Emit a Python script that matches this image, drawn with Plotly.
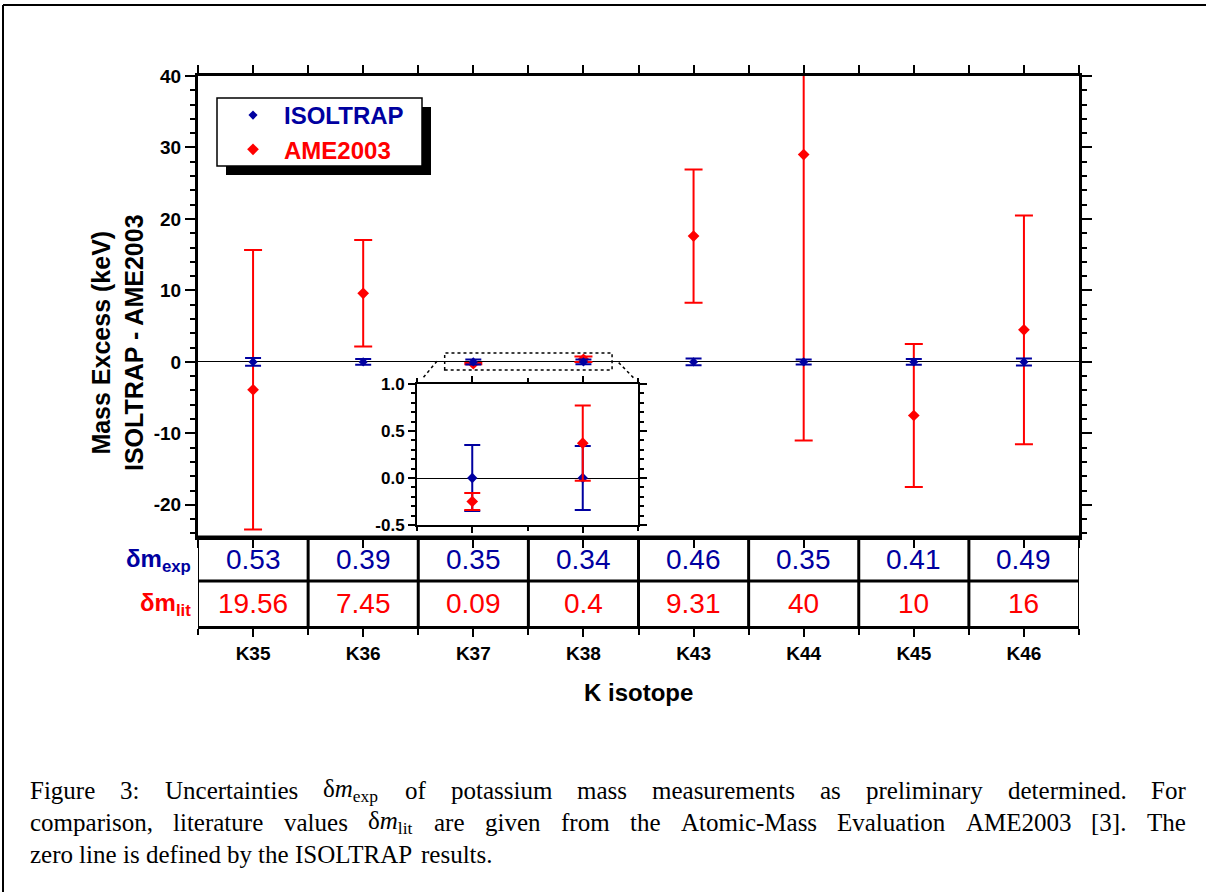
import re
import plotly.graph_objects as go

# ---------------- data ----------------
isotopes = ["K35", "K36", "K37", "K38", "K43", "K44", "K45", "K46"]
isoltrap_diff = [0, 0, 0, 0, 0, 0, 0, 0]
dm_exp = [0.53, 0.39, 0.35, 0.34, 0.46, 0.35, 0.41, 0.49]
ame_diff = [-3.9, 9.6, -0.25, 0.37, 17.6, 29.0, -7.5, 4.48]
dm_lit = [19.56, 7.45, 0.09, 0.4, 9.31, 40, 10, 16]
inset_isotopes = ["K37", "K38"]
main_yticks = [-20, -10, 0, 10, 20, 30, 40]
inset_yticks = [-0.5, 0.0, 0.5, 1.0]

BLUE = "#0000A0"
RED = "#FF0000"
SANS = "Liberation Sans, Arial, sans-serif"
SERIF = "Liberation Serif, Times New Roman, serif"

W, H = 1206, 892
PL, PR, PT, PB = 198, 1079, 76, 626   # plot area in pixels


def px_x(px):
    return (px - PL) / (PR - PL)


def px_y(py):
    return (PB - py) / (PB - PT)


xs = list(range(len(isotopes)))
ins_idx = [isotopes.index(k) for k in inset_isotopes]

fig = go.Figure()

# ---- main plot traces (red below, blue on top) ----
fig.add_trace(go.Scatter(
    x=xs, y=ame_diff, mode="markers",
    name=f"<b><span style='color:{RED}'>AME2003</span></b>",
    marker=dict(symbol="diamond", size=9, color=RED),
    error_y=dict(type="data", array=dm_lit, visible=True, color=RED, thickness=2, width=9),
    xaxis="x", yaxis="y", legendrank=2))
fig.add_trace(go.Scatter(
    x=xs, y=isoltrap_diff, mode="markers",
    name=f"<b><span style='color:{BLUE}'>ISOLTRAP</span></b>",
    marker=dict(symbol="diamond", size=7, color=BLUE),
    error_y=dict(type="data", array=dm_exp, visible=True, color=BLUE, thickness=2, width=8),
    xaxis="x", yaxis="y", legendrank=1))

# hidden helper so the bottom x-axis sits at the table bottom
fig.add_trace(go.Scatter(x=[], y=[], xaxis="x", yaxis="y3", showlegend=False, hoverinfo="skip"))

# ---- inset traces (blue below, red on top) ----
fig.add_trace(go.Scatter(
    x=ins_idx, y=[isoltrap_diff[i] for i in ins_idx], mode="markers", showlegend=False,
    marker=dict(symbol="diamond", size=8, color=BLUE),
    error_y=dict(type="data", array=[dm_exp[i] for i in ins_idx], visible=True, color=BLUE,
                 thickness=2, width=8),
    xaxis="x2", yaxis="y2"))
fig.add_trace(go.Scatter(
    x=ins_idx, y=[ame_diff[i] for i in ins_idx], mode="markers", showlegend=False,
    marker=dict(symbol="diamond", size=9, color=RED),
    error_y=dict(type="data", array=[dm_lit[i] for i in ins_idx], visible=True, color=RED,
                 thickness=2, width=8),
    xaxis="x2", yaxis="y2"))

shapes = []
annotations = []

# ---- table below the main plot ----
y_tab_top = px_y(537)
y_tab_mid = px_y(581)
line_k = dict(color="black", width=3)
shapes.append(dict(type="line", xref="x", yref="paper", x0=-0.5, x1=len(xs) - 0.5,
                   y0=y_tab_top, y1=y_tab_top, line=line_k))
shapes.append(dict(type="line", xref="x", yref="paper", x0=-0.5, x1=len(xs) - 0.5,
                   y0=y_tab_mid, y1=y_tab_mid, line=line_k))
for i in range(len(xs) + 1):
    shapes.append(dict(type="line", xref="x", yref="paper", x0=i - 0.5, x1=i - 0.5,
                       y0=0, y1=y_tab_top,
                       line=dict(color="black", width=3 if 0 < i < len(xs) else 2)))

for i, (e, l) in enumerate(zip(dm_exp, dm_lit)):
    annotations.append(dict(x=i, y=px_y(559), xref="x", yref="paper", text=f"{e:g}",
                            xanchor="center", yanchor="middle",
                            showarrow=False, font=dict(family=SANS, size=28, color=BLUE)))
    annotations.append(dict(x=i, y=px_y(603), xref="x", yref="paper", text=f"{l:g}",
                            xanchor="center", yanchor="middle",
                            showarrow=False, font=dict(family=SANS, size=28, color=RED)))

annotations.append(dict(x=px_x(193), y=px_y(560), xref="paper", yref="paper", xanchor="right",
                        yanchor="middle", text="<b>δm<sub>exp</sub></b>", showarrow=False,
                        font=dict(family=SANS, size=24, color=BLUE)))
annotations.append(dict(x=px_x(193), y=px_y(604), xref="paper", yref="paper", xanchor="right",
                        yanchor="middle", text="<b>δm<sub>lit</sub></b>", showarrow=False,
                        font=dict(family=SANS, size=24, color=RED)))

# ---- axis titles ----
annotations.append(dict(x=px_x(117), y=px_y(343), xref="paper", yref="paper", textangle=-90,
                        xanchor="center", yanchor="middle",
                        text="<b>Mass Excess (keV)<br>ISOLTRAP - AME2003</b>", showarrow=False,
                        font=dict(family=SANS, size=25, color="black")))
annotations.append(dict(x=px_x(638), y=px_y(692), xref="paper", yref="paper",
                        xanchor="center", yanchor="middle",
                        text="<b>K isotope</b>", showarrow=False,
                        font=dict(family=SANS, size=24, color="black")))

# ---- zoom indicator (dotted) ----
dot = dict(color="black", width=1.5, dash="dot")
shapes.append(dict(type="rect", xref="x", yref="y", x0=1.74, x1=3.26, y0=-1.12, y1=1.26, line=dot))
shapes.append(dict(type="line", xref="x", yref="y", x0=1.67, x1=1.54, y0=0.1, y1=-2.3, line=dot))
shapes.append(dict(type="line", xref="x", yref="y", x0=3.32, x1=3.46, y0=-0.1, y1=-2.3, line=dot))

# ---- legend box with drop shadow ----
shapes.append(dict(type="rect", xref="paper", yref="paper", x0=px_x(226), x1=px_x(431),
                   y0=px_y(175), y1=px_y(107), fillcolor="black", line=dict(width=0),
                   layer="below"))
shapes.append(dict(type="rect", xref="paper", yref="paper", x0=px_x(217), x1=px_x(422),
                   y0=px_y(166), y1=px_y(98), fillcolor="white",
                   line=dict(color="black", width=1.5), layer="below"))

# ---- page frame ----
fr = dict(color="black", width=2)
shapes.append(dict(type="line", xref="paper", yref="paper", x0=px_x(3), x1=px_x(1206),
                   y0=px_y(5), y1=px_y(5), line=fr))
shapes.append(dict(type="line", xref="paper", yref="paper", x0=px_x(3), x1=px_x(3),
                   y0=px_y(5), y1=px_y(892), line=fr))

# ---- caption, justified word by word (Times metrics) ----
TIMES = {" ": 250, ",": 250, ".": 250, ":": 278, "-": 333, "[": 333, "]": 333,
         "A": 722, "E": 611, "F": 556, "I": 333, "L": 611, "M": 889, "O": 722, "P": 556,
         "R": 667, "S": 556, "T": 611, "U": 722,
         "a": 444, "b": 500, "c": 444, "d": 500, "e": 444, "f": 333, "g": 500, "h": 500,
         "i": 278, "l": 278, "m": 778, "n": 500, "o": 500, "p": 500, "r": 333, "s": 389,
         "t": 278, "u": 500, "v": 500, "x": 500, "y": 500, "z": 444, "δ": 494}
CAP_SIZE = 25


def measure(html):
    total = 0.0
    for part in re.split(r"(<sub>.*?</sub>)", html):
        txt = re.sub(r"<.*?>", "", part)
        f = 0.7 if part.startswith("<sub>") else 1.0
        total += sum(TIMES.get(c, 500) for c in txt) * f
    return total * CAP_SIZE / 1000


cap_lines = [
    ("Figure 3: Uncertainties δ<i>m</i><sub>exp</sub> of potassium mass measurements "
     "as preliminary determined. For", 790, True),
    ("comparison, literature values δ<i>m</i><sub>lit</sub> are given from the "
     "Atomic-Mass Evaluation AME2003 [3]. The", 822, True),
    ("zero line is defined by the ISOLTRAP results.", 854, False),
]
CAP_L, CAP_R = 28, 1184
cap_font = dict(family=SERIF, size=CAP_SIZE, color="black")
for text, yp, justify in cap_lines:
    words = text.split(" ")
    widths = [measure(w) for w in words]
    if justify:
        gap = (CAP_R - CAP_L - sum(widths)) / (len(words) - 1)
    else:
        gap = TIMES[" "] * CAP_SIZE / 1000
    xcur = CAP_L
    for w, wd in zip(words, widths):
        annotations.append(dict(x=px_x(xcur), y=px_y(yp), xref="paper", yref="paper",
                                xanchor="left", yanchor="middle", text=w, showarrow=False,
                                font=cap_font))
        xcur += wd + gap

tick_font = dict(family=SANS, size=19, color="black", weight="bold")

fig.update_layout(
    width=W, height=H,
    margin=dict(l=PL, r=W - PR, t=PT, b=H - PB, pad=0),
    paper_bgcolor="white", plot_bgcolor="rgba(0,0,0,0)",
    showlegend=True,
    legend=dict(x=px_x(222), y=px_y(93), xanchor="left", yanchor="top",
                bgcolor="rgba(0,0,0,0)", borderwidth=0,
                font=dict(family=SANS, size=24), itemwidth=52,
                tracegroupgap=0),
    xaxis=dict(domain=[0, 1], anchor="y3", range=[-0.5, len(xs) - 0.5],
               tickmode="array", tickvals=xs, ticktext=isotopes,
               ticks="outside", ticklen=8, tickwidth=2, tickcolor="black",
               tickfont=tick_font, showline=True, linecolor="black", linewidth=3,
               mirror="allticks", showgrid=False, zeroline=False,
               minor=dict(tick0=-0.5, dtick=1, ticks="outside", ticklen=6, tickwidth=2,
                          tickcolor="black", showgrid=False)),
    yaxis=dict(domain=[y_tab_top, 1], anchor="x", range=[-24.5, 40],
               tickmode="array", tickvals=main_yticks,
               ticktext=[f"{v:g}" for v in main_yticks],
               ticks="outside", ticklen=10, tickwidth=2, tickcolor="black",
               tickfont=tick_font, showline=True, linecolor="black", linewidth=3,
               mirror="allticks", showgrid=False,
               zeroline=True, zerolinecolor="black", zerolinewidth=1,
               minor=dict(tickmode="linear", tick0=0, dtick=2, ticks="outside", ticklen=5,
                          tickwidth=2, tickcolor="black", showgrid=False)),
    yaxis3=dict(domain=[0, 1], anchor="x", visible=False, range=[0, 1]),
    xaxis2=dict(domain=[px_x(417), px_x(638)], anchor="y2", range=[1.5, 3.5],
                tickmode="array", tickvals=ins_idx, showticklabels=False,
                ticks="outside", ticklen=6, tickwidth=2, tickcolor="black",
                showline=True, linecolor="black", linewidth=2, mirror="allticks",
                showgrid=False, zeroline=False,
                minor=dict(tick0=1.5, dtick=1, ticks="outside", ticklen=4, tickwidth=2,
                           tickcolor="black", showgrid=False)),
    yaxis2=dict(domain=[px_y(525), px_y(384)], anchor="x2", range=[-0.5, 1.0],
                tickmode="array", tickvals=inset_yticks,
                ticktext=[f"{v:.1f}" for v in inset_yticks],
                ticks="outside", ticklen=7, tickwidth=2, tickcolor="black",
                tickfont=dict(family=SANS, size=17, color="black", weight="bold"),
                showline=True, linecolor="black", linewidth=2, mirror="allticks",
                showgrid=False, zeroline=True, zerolinecolor="black", zerolinewidth=1,
                minor=dict(tickmode="linear", tick0=0, dtick=0.1, ticks="outside", ticklen=4,
                           tickwidth=1.5, tickcolor="black", showgrid=False)),
    shapes=shapes,
    annotations=annotations,
)

fig.write_html("out.html", config={"displayModeBar": False},
               post_script="document.body.style.margin='0';document.body.style.overflow='hidden';")
